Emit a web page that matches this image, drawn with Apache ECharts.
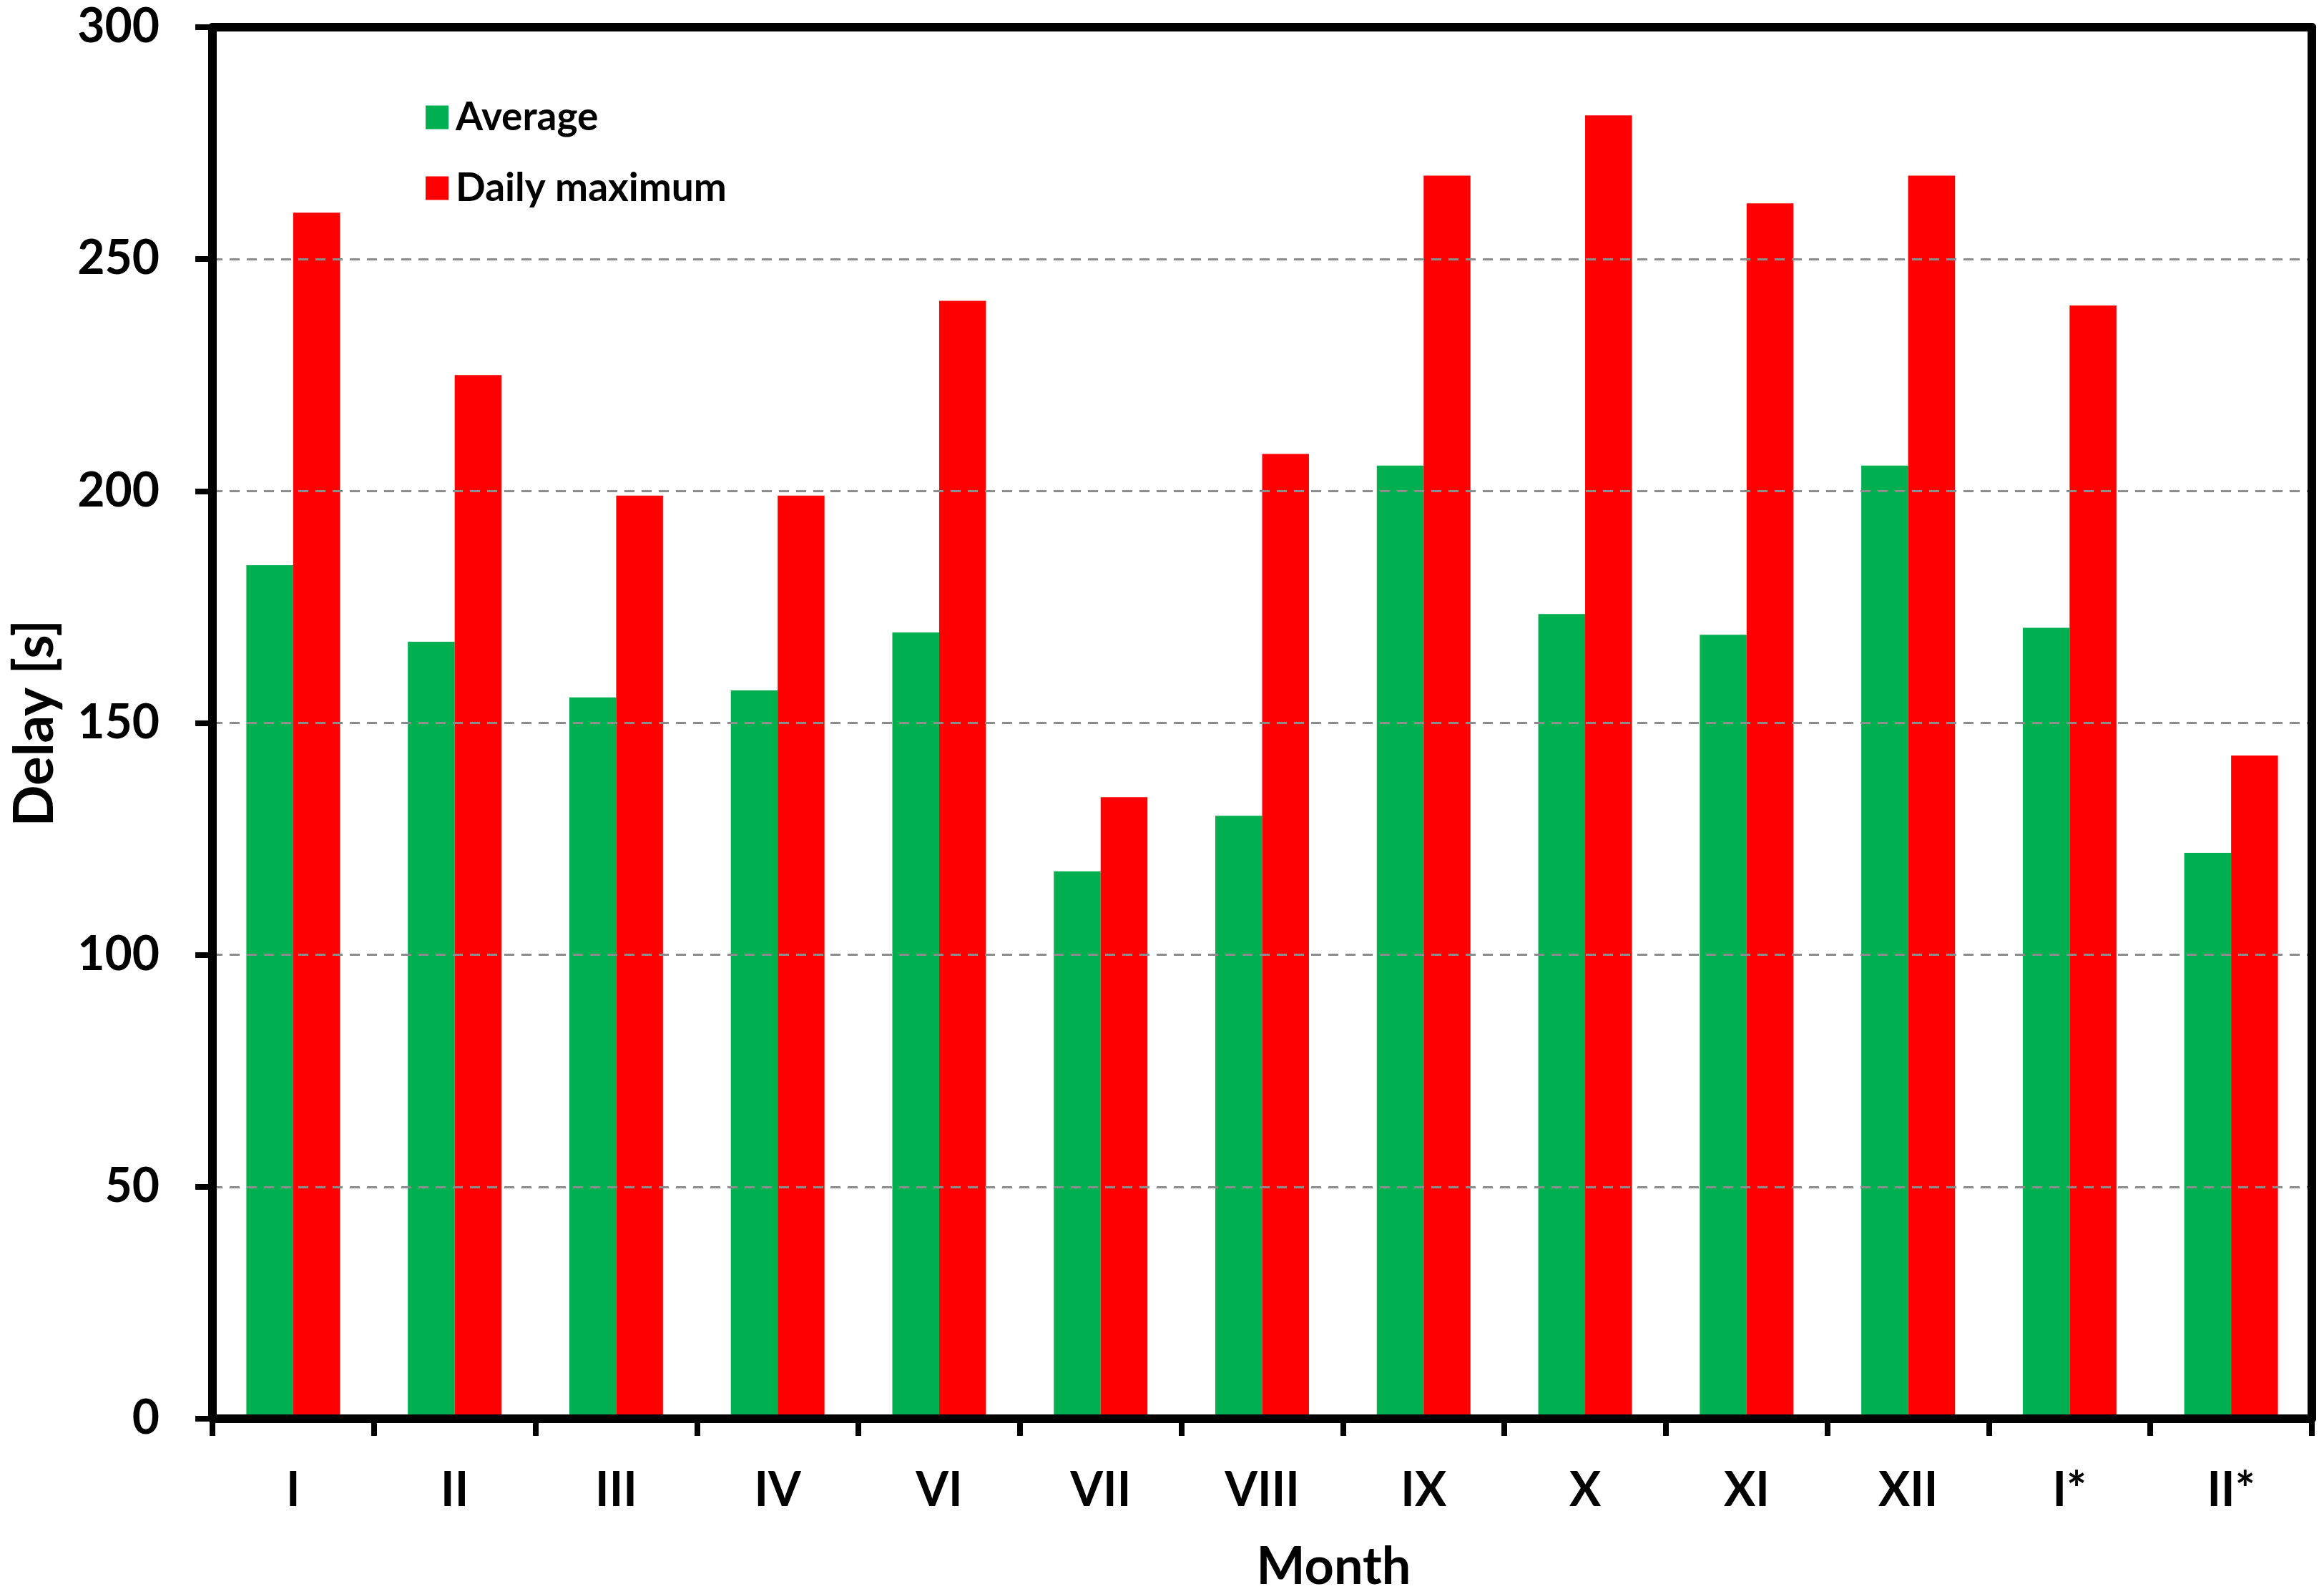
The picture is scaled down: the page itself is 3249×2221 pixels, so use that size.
<!DOCTYPE html>
<html>
<head>
<meta charset="utf-8">
<script src="https://cdn.jsdelivr.net/npm/echarts@6/dist/echarts.min.js"></script>
<style>html,body{margin:0;padding:0;background:#fff;}#c{width:3249px;height:2221px;}</style>
</head>
<body>
<div id="c"></div>
<script>
const categories = ['I','II','III','IV','VI','VII','VIII','IX','X','XI','XII','I*','II*'];
const averageValues = [184, 167.5, 155.5, 157, 169.5, 118, 130, 205.5, 173.5, 169, 205.5, 170.5, 122];
const dailyMaxValues = [260, 225, 199, 199, 241, 134, 208, 268, 281, 262, 268, 240, 143];
const yTicks = [0, 50, 100, 150, 200, 250, 300];

const FONT = 'Lato';
const chart = echarts.init(document.getElementById('c'), null, {renderer: 'canvas'});
chart.setOption({
  backgroundColor: '#ffffff',
  animation: false,
  textStyle: {fontFamily: FONT, color: '#000'},
  grid: {left: 297, right: 17, top: 38, bottom: 238, containLabel: false, outerBoundsMode: 'none'},
  legend: {
    orient: 'vertical', left: 590, top: 129, itemWidth: 32, itemHeight: 33, itemGap: 39,
    icon: 'rect',
    textStyle: {fontFamily: FONT, fontWeight: 'bold', fontSize: 55, lineHeight: 60, color: '#000', padding: [0,0,0,5]},
    data: ['Average', 'Daily maximum']
  },
  xAxis: [{
    type: 'category', data: categories,
    name: 'Month', nameLocation: 'middle', nameGap: 172,
    nameTextStyle: {fontFamily: FONT, fontWeight: 'bold', fontSize: 72, color: '#000', padding: [0,0,0,200]},
    axisLine: {onZero: false, lineStyle: {color: '#000', width: 12}},
    axisTick: {show: true, inside: false, length: 24, lineStyle: {color: '#000', width: 8}},
    axisLabel: {fontFamily: FONT, fontWeight: 'bold', fontSize: 66, color: '#000', margin: 68},
    splitLine: {show: false},
    z: 3
  }, {
    type: 'category', data: categories, position: 'top',
    axisLine: {show: true, onZero: false, lineStyle: {color: '#000', width: 12}},
    axisTick: {show: false}, axisLabel: {show: false}, splitLine: {show: false},
    z: 3
  }],
  yAxis: [{
    type: 'value', min: yTicks[0], max: yTicks[yTicks.length-1], interval: 50,
    name: 'Delay [s]', nameLocation: 'middle', nameGap: 210,
    nameTextStyle: {fontFamily: FONT, fontWeight: 'bold', fontSize: 76, color: '#000'},
    axisLine: {show: true, onZero: false, lineStyle: {color: '#000', width: 12}},
    axisTick: {show: true, inside: false, length: 24, lineStyle: {color: '#000', width: 8}},
    axisLabel: {fontFamily: FONT, fontWeight: 'bold', fontSize: 66, color: '#000', margin: 74},
    splitLine: {show: true, lineStyle: {color: '#8c8c8c', width: 3, type: [14, 10]}},
    z: 3
  }, {
    type: 'value', min: yTicks[0], max: yTicks[yTicks.length-1], interval: 50, position: 'right',
    axisLine: {show: true, onZero: false, lineStyle: {color: '#000', width: 12}},
    axisTick: {show: false}, axisLabel: {show: false}, splitLine: {show: false},
    z: 3
  }],
  series: [
    {name: 'Average', type: 'bar', data: averageValues, itemStyle: {color: '#00B050'}, barGap: '0%', barCategoryGap: '42%', z: 2},
    {name: 'Daily maximum', type: 'bar', data: dailyMaxValues, itemStyle: {color: '#FF0000'}, barGap: '0%', barCategoryGap: '42%', z: 2}
  ]
});
</script>
</body>
</html>
